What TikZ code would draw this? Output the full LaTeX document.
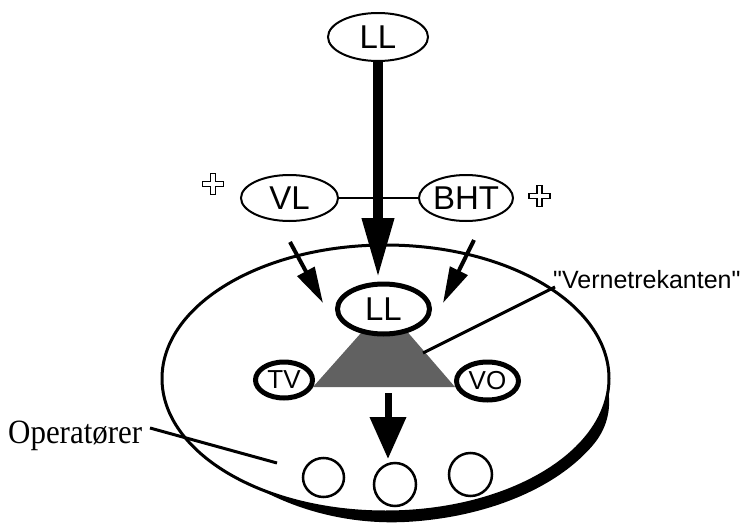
\documentclass[tikz,border=0pt]{standalone}
\usepackage{fontspec}
\newfontfamily\helv{Liberation Sans}
\newfontfamily\tms{Liberation Serif}[FakeStretch=0.91]
\usetikzlibrary{shapes.geometric,arrows.meta}
\begin{document}
\begin{tikzpicture}[x=1pt,y=-1pt,
  thinoval/.style={ellipse, draw, fill=white, line width=2pt, inner sep=0pt,
    font=\helv\fontsize{33}{33}\selectfont},
  thickoval/.style={ellipse, draw, fill=white, line width=5pt, inner sep=0pt},
  opcircle/.style={ellipse, draw, fill=white, line width=2.5pt, inner sep=0pt},
  bigarrow/.style={line width=10pt, -{Triangle[length=60pt,width=30pt]}},
  midarrow/.style={line width=4pt, -{Triangle[length=36pt,width=19pt]}},
  downarrow/.style={line width=7pt, -{Triangle[length=42pt,width=35pt]}},
  leader/.style={line width=3pt},
  hplus/.pic={\draw[line width=1.2pt, fill=white]
    (-2.5,-10.5) -- (2.5,-10.5) -- (2.5,-2.5) -- (10.5,-2.5) -- (10.5,2.5)
    -- (2.5,2.5) -- (2.5,10.5) -- (-2.5,10.5) -- (-2.5,2.5) -- (-10.5,2.5)
    -- (-10.5,-2.5) -- (-2.5,-2.5) -- cycle;}
]
\useasboundingbox (0,0) rectangle (740,525);

% disc with its shadow crescent
\fill[black] (385.5,378.5) -- plot[domain=5:125, samples=100]
  ({385.5+(223.5+10.5*sin(min(90,4*(\x-5)))*sin(min(90,2.2*(125-\x))))*cos(\x)},
   {378.5+(133.5+10.5*sin(min(90,4*(\x-5)))*sin(min(90,2.2*(125-\x))))*sin(\x)})
  -- cycle;
\draw[line width=3pt, fill=white] (385.5,378.5)
  ellipse [x radius=223.5pt, y radius=133.5pt];

% the safety triangle
\fill[black!62] (385,306) -- (313,387) -- (455,387) -- cycle;

% top level
\node[thinoval, minimum width=100pt, minimum height=48pt] (LLtop) at (378,37) {LL};
\node[thinoval, minimum width=97pt, minimum height=46pt] (VL) at (289.5,198) {VL};
\node[thinoval, minimum width=94pt, minimum height=46pt] (BHT) at (466,198) {BHT};
\draw[line width=2pt] (VL.east) -- (BHT.west);
\pic at (213,184) {hplus};
\pic at (539.5,196) {hplus};

% arrows into the disc
\coordinate (tipLL) at (378,278);
\coordinate (vlA) at (290,242);
\coordinate (vlB) at (323,303);
\coordinate (bhA) at (474,240);
\coordinate (bhB) at (443,303);
\draw[bigarrow] (LLtop.south) -- (tipLL);
\draw[midarrow] (vlA) -- (vlB);
\draw[midarrow] (bhA) -- (bhB);

% inner nodes
\node[thickoval, minimum width=92pt, minimum height=50pt,
  font=\helv\fontsize{33}{33}\selectfont] (LLin) at (383.5,309) {LL};
\node[thickoval, minimum width=57pt, minimum height=36pt,
  font=\helv\fontsize{26}{26}\selectfont] (TV) at (284,380) {TV};
\node[thickoval, minimum width=62pt, minimum height=38pt,
  font=\helv\fontsize{26}{26}\selectfont] (VO) at (487.5,381) {VO};

% operators
\node[opcircle, minimum width=41pt, minimum height=39pt] (op1) at (323.5,477.5) {};
\node[opcircle, minimum width=42pt, minimum height=43pt] (op2) at (395,484.5) {};
\node[opcircle, minimum width=43pt, minimum height=43pt] (op3) at (470.5,474.5) {};

\coordinate (dnA) at (388,393);
\coordinate (dnB) at (388,459);
\draw[downarrow] (dnA) -- (dnB);

% labels
\node[anchor=base west, inner sep=0pt, font=\helv\fontsize{25}{25}\selectfont]
  (vern) at (553,288) {"Vernetrekanten"};
\coordinate (vernA) at (555,287);
\coordinate (vernB) at (423,353);
\draw[leader] (vernA) -- (vernB);

\node[anchor=base west, inner sep=0pt, font=\tms\fontsize{34}{34}\selectfont]
  (oper) at (8,443) {Operatører};
\coordinate (opA) at (150,428);
\coordinate (opB) at (277,463);
\draw[leader] (opA) -- (opB);
\end{tikzpicture}
\end{document}
